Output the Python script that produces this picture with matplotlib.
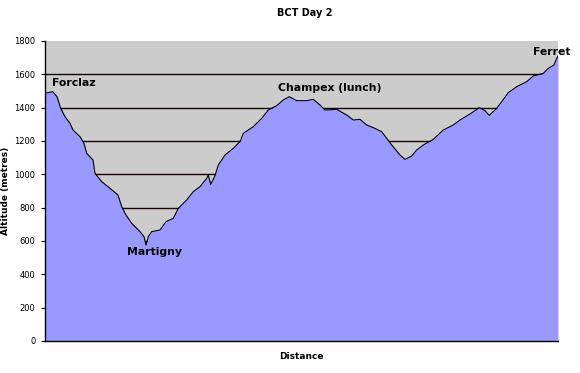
import matplotlib
matplotlib.use("Agg")
from matplotlib import pyplot as plt

# profile (distance in arbitrary units, altitude in metres)
distance = [0, 7.7, 12, 15.7, 20, 25, 28, 35, 39, 41.7, 48, 50, 56.7, 65, 73,
            76.7, 81, 86.7, 95, 99, 101, 103.3, 106.7, 115, 121, 128.3, 133.3,
            141.7, 148.3, 155, 161.7, 163.3, 165.7, 170, 173.3, 180, 188.3, 195,
            198.3, 208.3, 216.7, 223.3, 231.7, 238.3, 244.3, 251.7, 261.7, 268.3,
            275, 280, 291.7, 301.7, 308.3, 315, 321.7, 328.3, 336.7, 341.7, 346.7,
            355, 360, 366.7, 371.7, 378.3, 388.3, 398.3, 408.3, 415, 425, 434.3,
            440, 444.3, 451.7, 456.7, 463.3, 471.7, 481.7, 488.3, 498.3, 503.3,
            509, 511.7, 513]
altitude = [1486, 1496, 1466, 1396, 1346, 1306, 1266, 1226, 1186, 1126, 1086,
            1006, 956, 916, 876, 806, 756, 706, 656, 626, 576, 626, 656, 666,
            716, 736, 796, 846, 896, 926, 976, 996, 940, 992, 1056, 1116, 1156,
            1196, 1246, 1286, 1336, 1386, 1412, 1446, 1466, 1442, 1442, 1450,
            1416, 1386, 1390, 1356, 1326, 1330, 1296, 1280, 1256, 1216, 1176,
            1116, 1090, 1110, 1146, 1176, 1210, 1266, 1296, 1326, 1362, 1400,
            1382, 1354, 1396, 1436, 1490, 1526, 1556, 1590, 1606, 1636, 1656,
            1696, 1710]

places = ["Forclaz", "Martigny", "Champex (lunch)", "Ferret"]
place_dist = [7, 82, 233, 488]
place_alt = [1548, 535, 1518, 1734]

yticks = list(range(0, 1801, 200))

fig = plt.figure(figsize=(5.8, 3.73), dpi=100)
ax = fig.add_axes([45 / 580, 32 / 373, 513 / 580, 300 / 373])
ax.set_facecolor("#CCCCCC")

for y in yticks[1:-1]:
    ax.axhline(y, color="#1a0000", lw=1.0, zorder=1)

ax.fill_between(distance, altitude, 0, color="#9999FF", lw=0, zorder=2)
ax.plot(distance, altitude, color="black", lw=0.8, zorder=3)

for name, d, a in zip(places, place_dist, place_alt):
    ax.text(d, a, name, fontsize=7.8, fontweight="bold", ha="left",
            va="center", family="DejaVu Sans", zorder=4, clip_on=False)

ax.set_xlim(distance[0], distance[-1])
ax.set_ylim(0, 1800)
ax.set_xticks([])
ax.set_yticks(yticks)
ax.set_yticklabels([str(t) for t in yticks], fontsize=6)
ax.tick_params(axis="y", length=3, width=0.8, pad=4, direction="out")

for side in ["top", "right"]:
    ax.spines[side].set_visible(False)
ax.spines["left"].set_linewidth(1.0)
ax.spines["bottom"].set_linewidth(1.0)

ax.set_ylabel("Altitude (metres)", fontsize=6.5, fontweight="bold", labelpad=3)
ax.set_xlabel("Distance", fontsize=6.5, fontweight="bold", labelpad=8)
fig.text(0.525, 0.965, "BCT Day 2", ha="center", va="center",
         fontsize=7, fontweight="bold")

fig.savefig("out.png", dpi=100)
